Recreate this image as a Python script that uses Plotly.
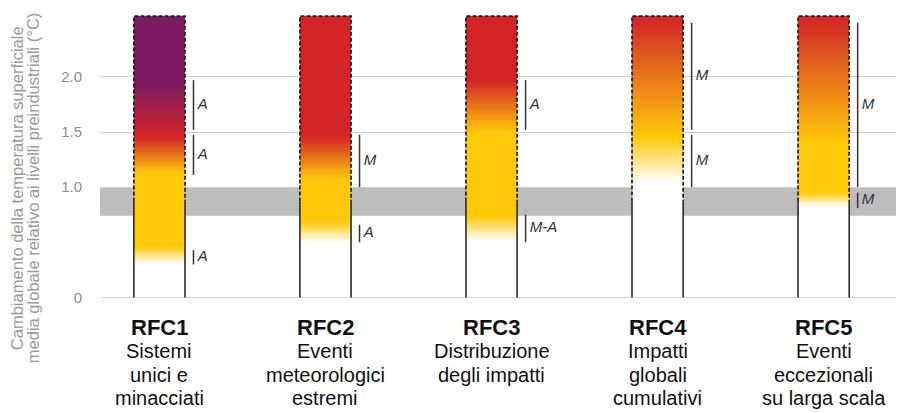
import numpy as np
import plotly.graph_objects as go

# ---------------- data ----------------
categories = ["RFC1", "RFC2", "RFC3", "RFC4", "RFC5"]
descriptions = [
    ["Sistemi", "unici e", "minacciati"],
    ["Eventi", "meteorologici", "estremi"],
    ["Distribuzione", "degli impatti"],
    ["Impatti", "globali", "cumulativi"],
    ["Eventi", "eccezionali", "su larga scala"],
]
y_title_lines = ["Cambiamento della temperatura superficiale",
                 "media globale relativo ai livelli preindustriali (°C)"]
y_tick_vals = [0, 1.0, 1.5, 2.0]
y_tick_text = ["0", "1.0", "1.5", "2.0"]

ember_top = 2.55          # top of every ember (°C)
dashed_from = 0.87        # ember outline is dashed above this level
band_low, band_high = 0.74, 1.0   # present-day warming band

WHITE, YELLOW, RED, PURPLE = "#FFFFFF", "#FFC90A", "#D22327", "#7C1A63"
# colour transitions for each ember: (temperature °C, colour)
ember_stops = [
    [(0.0, WHITE), (0.30, WHITE), (0.46, YELLOW), (1.12, YELLOW), (1.46, RED), (1.95, PURPLE), (2.55, PURPLE)],
    [(0.0, WHITE), (0.50, WHITE), (0.68, YELLOW), (1.07, YELLOW), (1.46, RED), (2.55, RED)],
    [(0.0, WHITE), (0.51, WHITE), (0.73, YELLOW), (1.49, YELLOW), (1.97, RED), (2.55, RED)],
    [(0.0, WHITE), (1.04, WHITE), (1.45, YELLOW), (2.55, RED)],
    [(0.0, WHITE), (0.82, WHITE), (0.95, YELLOW), (1.40, YELLOW), (2.55, RED)],
]
# confidence segments: (low °C, high °C, label)
confidence = [
    [(1.52, 1.97, "A"), (1.11, 1.475, "A"), (0.30, 0.43, "A")],
    [(1.00, 1.475, "M"), (0.50, 0.66, "A")],
    [(1.52, 1.97, "A"), (0.50, 0.75, "M-A")],
    [(1.52, 2.49, "M"), (1.00, 1.475, "M")],
    [(1.00, 2.49, "M"), (0.81, 0.95, "M")],
]

# ---------------- styling ----------------
# the page body adds an 8px margin, so the figure is 8px smaller each way
W, H = 896, 405
half_w = 0.154            # half width of an ember (x units)
conf_off = 0.051          # confidence line offset from ember edge
x_range = [-0.358, 4.46]
y_range = [-0.05, 2.624]

fig = go.Figure()

edges = np.round(np.arange(0, ember_top + 0.0001, 0.01), 4)
centers = (edges[:-1] + edges[1:]) / 2

for i, stops in enumerate(ember_stops):
    cs = [[v / ember_top, c] for v, c in stops]
    cs[0][0] = 0.0
    cs[-1][0] = 1.0
    fig.add_trace(go.Heatmap(
        x=[i - half_w, i + half_w], y=edges, z=centers.reshape(-1, 1),
        colorscale=cs, zmin=0, zmax=ember_top, showscale=False,
        hoverinfo="skip"))

# outlines
for i in range(len(categories)):
    xl, xr = i - half_w, i + half_w
    fig.add_trace(go.Scatter(
        x=[xl, xl, None, xr, xr], y=[0, dashed_from, None, 0, dashed_from],
        mode="lines", line=dict(color="#1e1e1e", width=1.5),
        hoverinfo="skip", showlegend=False))
    fig.add_trace(go.Scatter(
        x=[xl, xl, xr, xr], y=[dashed_from, ember_top, ember_top, dashed_from],
        mode="lines", line=dict(color="#1e1e1e", width=1.7, dash="4px,2px"),
        hoverinfo="skip", showlegend=False, cliponaxis=False))

# confidence bars and labels
for i, segs in enumerate(confidence):
    xc = i + half_w + conf_off
    xs, ys = [], []
    for lo, hi, lab in segs:
        xs += [xc, xc, None]
        ys += [lo, hi, None]
    fig.add_trace(go.Scatter(x=xs, y=ys, mode="lines",
                             line=dict(color="#333333", width=1.5),
                             hoverinfo="skip", showlegend=False))
    fig.add_trace(go.Scatter(
        x=[xc] * len(segs), y=[(lo + hi) / 2 for lo, hi, _ in segs],
        text=[f"&nbsp;<i>{lab}</i>" for _, _, lab in segs],
        mode="text", textposition="middle right",
        textfont=dict(family="Liberation Sans", size=15, color="#333333"),
        hoverinfo="skip", showlegend=False, cliponaxis=False))

# present-day band
fig.add_shape(type="rect", xref="paper", x0=0, x1=1, yref="y",
              y0=band_low, y1=band_high, fillcolor="#BDBDBD",
              line=dict(width=0), layer="below")

# category labels
annotations = []
title_px, line_px0, line_step = 30, 54, 23.5
for i, (cat, lines) in enumerate(zip(categories, descriptions)):
    annotations.append(dict(
        x=i, y=0, xref="x", yref="y", text=f"<b>{cat}</b>", showarrow=False,
        xanchor="center", yanchor="middle", yshift=-title_px,
        font=dict(family="Liberation Sans", size=22, color="#111111")))
    for k, ln in enumerate(lines):
        annotations.append(dict(
            x=i, y=0, xref="x", yref="y", text=ln, showarrow=False,
            xanchor="center", yanchor="middle", yshift=-(line_px0 + k * line_step),
            font=dict(family="Liberation Sans", size=20, color="#111111")))

# y-axis title, two rotated lines
for k, (ln, xp) in enumerate(zip(y_title_lines, [-0.1035, -0.0835])):
    annotations.append(dict(
        x=xp, y=0.39, xref="paper", yref="paper", text=ln, showarrow=False,
        textangle=-90, xanchor="center", yanchor="middle",
        font=dict(family="Liberation Sans", size=16.5, color="#9A9A9A")))

fig.update_layout(
    width=W, height=H, autosize=False,
    margin=dict(l=92, r=4, t=0, b=109.5),
    paper_bgcolor="white", plot_bgcolor="white",
    showlegend=False,
    annotations=annotations,
    xaxis=dict(range=x_range, showgrid=False, zeroline=False,
               showticklabels=False, showline=False, fixedrange=True),
    yaxis=dict(range=y_range, tickvals=y_tick_vals, ticktext=y_tick_text,
               showgrid=True, gridcolor="#D0D0D0", gridwidth=1,
               zeroline=False, showline=False, ticks="",
               ticklabelstandoff=17,
               tickfont=dict(family="Liberation Sans", size=15, color="#8C8C8C"),
               automargin=False, fixedrange=True),
)

fig.write_html("out.html")
